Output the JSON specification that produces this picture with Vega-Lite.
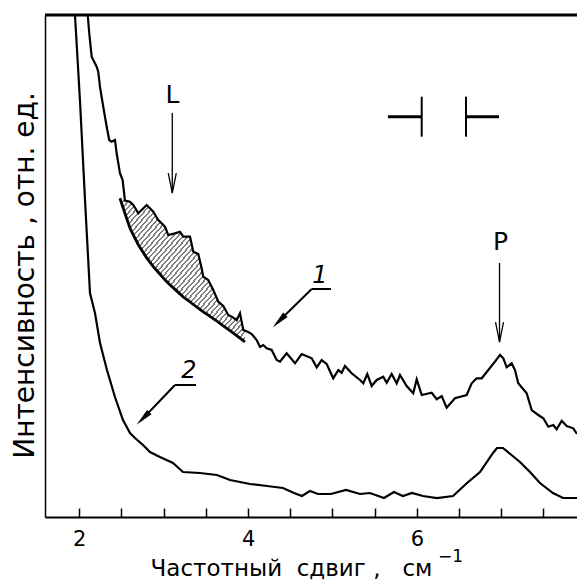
{
  "$schema": "https://vega.github.io/schema/vega-lite/v6.json",
  "width": 532,
  "height": 502,
  "autosize": {"type": "none"},
  "padding": {"left": 45, "top": 15, "right": 0, "bottom": 63},
  "background": "white",
  "config": {"view": {"stroke": null}, "font": "DejaVu Sans"},
  "datasets": {
    "c1": [
      {"x": 2.09, "y": 104}, {"x": 2.100, "y": 100.0}, {"x": 2.118, "y": 96.41}, {"x": 2.147, "y": 91.69},
      {"x": 2.166, "y": 91.04}, {"x": 2.206, "y": 89.70}, {"x": 2.225, "y": 88.71}, {"x": 2.245, "y": 85.72},
      {"x": 2.284, "y": 81.73}, {"x": 2.325, "y": 77.75}, {"x": 2.355, "y": 75.10}, {"x": 2.384, "y": 74.76},
      {"x": 2.423, "y": 75.10}, {"x": 2.443, "y": 72.45}, {"x": 2.482, "y": 68.47}, {"x": 2.514, "y": 67.13},
      {"x": 2.541, "y": 63.01}, {"x": 2.601, "y": 62.81}, {"x": 2.640, "y": 62.15}, {"x": 2.699, "y": 60.50},
      {"x": 2.799, "y": 62.15}, {"x": 2.877, "y": 60.82}, {"x": 2.936, "y": 59.16}, {"x": 2.976, "y": 58.51},
      {"x": 3.015, "y": 57.83}, {"x": 3.054, "y": 56.18}, {"x": 3.134, "y": 56.51}, {"x": 3.193, "y": 56.83},
      {"x": 3.232, "y": 55.84}, {"x": 3.312, "y": 55.84}, {"x": 3.351, "y": 52.85}, {"x": 3.410, "y": 52.39},
      {"x": 3.450, "y": 49.54}, {"x": 3.469, "y": 47.87}, {"x": 3.528, "y": 47.21}, {"x": 3.588, "y": 45.22},
      {"x": 3.647, "y": 42.89}, {"x": 3.706, "y": 42.03}, {"x": 3.765, "y": 40.24}, {"x": 3.806, "y": 39.90},
      {"x": 3.865, "y": 39.24}, {"x": 3.904, "y": 40.58}, {"x": 3.943, "y": 37.25}, {"x": 4.002, "y": 36.85},
      {"x": 4.043, "y": 36.45}, {"x": 4.102, "y": 35.26}, {"x": 4.141, "y": 33.86}, {"x": 4.180, "y": 34.26},
      {"x": 4.220, "y": 33.61}, {"x": 4.280, "y": 33.27}, {"x": 4.339, "y": 31.27}, {"x": 4.378, "y": 30.94},
      {"x": 4.457, "y": 32.61}, {"x": 4.556, "y": 30.62}, {"x": 4.635, "y": 32.47}, {"x": 4.754, "y": 31.61},
      {"x": 4.813, "y": 29.82}, {"x": 4.872, "y": 31.27}, {"x": 4.931, "y": 30.48}, {"x": 5.009, "y": 27.63},
      {"x": 5.069, "y": 29.28}, {"x": 5.109, "y": 28.75}, {"x": 5.148, "y": 30.08}, {"x": 5.227, "y": 28.63},
      {"x": 5.326, "y": 27.29}, {"x": 5.365, "y": 26.63}, {"x": 5.412, "y": 28.49}, {"x": 5.464, "y": 26.10},
      {"x": 5.524, "y": 27.29}, {"x": 5.602, "y": 27.95}, {"x": 5.642, "y": 26.75}, {"x": 5.701, "y": 28.49},
      {"x": 5.761, "y": 26.63}, {"x": 5.800, "y": 28.29}, {"x": 5.879, "y": 26.10}, {"x": 5.957, "y": 24.64},
      {"x": 5.998, "y": 27.43}, {"x": 6.057, "y": 24.30}, {"x": 6.175, "y": 24.76}, {"x": 6.235, "y": 23.45},
      {"x": 6.294, "y": 24.10}, {"x": 6.353, "y": 21.77}, {"x": 6.451, "y": 23.65}, {"x": 6.590, "y": 24.30},
      {"x": 6.649, "y": 26.63}, {"x": 6.708, "y": 27.63}, {"x": 6.768, "y": 27.63}, {"x": 6.846, "y": 29.28},
      {"x": 6.925, "y": 30.94}, {"x": 6.985, "y": 32.27}, {"x": 7.024, "y": 31.61}, {"x": 7.064, "y": 29.82},
      {"x": 7.123, "y": 30.62}, {"x": 7.162, "y": 29.28}, {"x": 7.201, "y": 26.63}, {"x": 7.301, "y": 24.64},
      {"x": 7.360, "y": 21.31}, {"x": 7.438, "y": 20.32}, {"x": 7.498, "y": 19.66}, {"x": 7.557, "y": 17.99},
      {"x": 7.616, "y": 18.33}, {"x": 7.656, "y": 17.47}, {"x": 7.716, "y": 19.18}, {"x": 7.775, "y": 18.13},
      {"x": 7.853, "y": 17.67}, {"x": 7.897, "y": 16.53}
    ],
    "c2": [
      {"x": 1.94, "y": 103}, {"x": 1.949, "y": 100.0}, {"x": 2.008, "y": 83.07}, {"x": 2.068, "y": 63.15},
      {"x": 2.127, "y": 44.62}, {"x": 2.186, "y": 40.64}, {"x": 2.246, "y": 34.66}, {"x": 2.328, "y": 29.28},
      {"x": 2.423, "y": 23.90}, {"x": 2.518, "y": 19.32}, {"x": 2.601, "y": 16.73}, {"x": 2.660, "y": 15.74},
      {"x": 2.755, "y": 14.34}, {"x": 2.838, "y": 12.95}, {"x": 2.956, "y": 11.95}, {"x": 3.110, "y": 10.76},
      {"x": 3.229, "y": 8.96}, {"x": 3.430, "y": 8.76}, {"x": 3.631, "y": 8.37}, {"x": 3.786, "y": 7.37},
      {"x": 4.023, "y": 6.57}, {"x": 4.224, "y": 6.18}, {"x": 4.413, "y": 5.78}, {"x": 4.544, "y": 4.78},
      {"x": 4.638, "y": 4.18}, {"x": 4.733, "y": 5.18}, {"x": 4.828, "y": 4.58}, {"x": 4.982, "y": 4.58},
      {"x": 5.160, "y": 5.38}, {"x": 5.326, "y": 4.58}, {"x": 5.444, "y": 4.78}, {"x": 5.610, "y": 3.78},
      {"x": 5.728, "y": 4.98}, {"x": 5.835, "y": 4.18}, {"x": 5.942, "y": 4.78}, {"x": 6.072, "y": 4.18},
      {"x": 6.238, "y": 3.78}, {"x": 6.428, "y": 4.18}, {"x": 6.594, "y": 6.77}, {"x": 6.748, "y": 8.96},
      {"x": 6.902, "y": 12.75}, {"x": 6.949, "y": 13.75}, {"x": 7.020, "y": 13.75}, {"x": 7.221, "y": 10.96},
      {"x": 7.340, "y": 8.96}, {"x": 7.458, "y": 6.77}, {"x": 7.612, "y": 4.78}, {"x": 7.731, "y": 3.78},
      {"x": 7.838, "y": 3.78}, {"x": 7.897, "y": 3.78}
    ],
    "hatch": [
      {"x": 2.482, "y": 63.49, "y2": 63.49}, {"x": 2.541, "y": 63.01, "y2": 60.50},
      {"x": 2.601, "y": 62.81, "y2": 57.51}, {"x": 2.640, "y": 62.15, "y2": 56.18},
      {"x": 2.699, "y": 60.50, "y2": 54.24}, {"x": 2.799, "y": 62.15, "y2": 51.61},
      {"x": 2.877, "y": 60.82, "y2": 49.86}, {"x": 2.936, "y": 59.16, "y2": 48.75},
      {"x": 2.976, "y": 58.51, "y2": 47.99}, {"x": 3.015, "y": 57.83, "y2": 47.25},
      {"x": 3.054, "y": 56.18, "y2": 46.57}, {"x": 3.134, "y": 56.51, "y2": 45.34},
      {"x": 3.193, "y": 56.83, "y2": 44.44}, {"x": 3.232, "y": 55.84, "y2": 43.82},
      {"x": 3.312, "y": 55.84, "y2": 42.83}, {"x": 3.351, "y": 52.85, "y2": 42.33},
      {"x": 3.410, "y": 52.39, "y2": 41.59}, {"x": 3.450, "y": 49.54, "y2": 41.10},
      {"x": 3.469, "y": 47.87, "y2": 40.88}, {"x": 3.528, "y": 47.21, "y2": 40.20},
      {"x": 3.588, "y": 45.22, "y2": 39.50}, {"x": 3.647, "y": 42.89, "y2": 38.80},
      {"x": 3.706, "y": 42.03, "y2": 38.09}, {"x": 3.765, "y": 40.24, "y2": 37.37},
      {"x": 3.806, "y": 39.90, "y2": 36.89}, {"x": 3.865, "y": 39.24, "y2": 36.14},
      {"x": 3.904, "y": 40.58, "y2": 35.62}, {"x": 3.943, "y": 37.25, "y2": 35.12},
      {"x": 3.963, "y": 37.10, "y2": 34.86}
    ],
    "segs": [
      {"kind": "shaft", "x": 3.102, "y": 80.48, "x2": 3.102, "y2": 64.54},
      {"kind": "shaft", "x": 6.979, "y": 50.60, "x2": 6.979, "y2": 34.86},
      {"kind": "leader", "x": 4.754, "y": 45.42, "x2": 4.982, "y2": 45.42},
      {"kind": "leader", "x": 4.754, "y": 45.42, "x2": 4.367, "y2": 39.04},
      {"kind": "leader", "x": 3.134, "y": 26.29, "x2": 3.383, "y2": 26.29},
      {"kind": "leader", "x": 3.134, "y": 26.29, "x2": 2.754, "y2": 19.62},
      {"kind": "barh", "x": 5.657, "y": 79.74, "x2": 6.057, "y2": 79.74},
      {"kind": "barh", "x": 6.582, "y": 79.74, "x2": 6.973, "y2": 79.74},
      {"kind": "barv", "x": 6.057, "y": 83.73, "x2": 6.057, "y2": 75.76},
      {"kind": "barv", "x": 6.582, "y": 83.73, "x2": 6.582, "y2": 75.76}
    ],
    "heads": [
      {"kind": "open", "x": 3.102, "y": 66.53},
      {"kind": "open", "x": 6.979, "y": 36.85},
      {"kind": "dart", "x": 4.367, "y": 39.04},
      {"kind": "dart", "x": 2.754, "y": 19.62}
    ],
    "labs": [
      {"kind": "up", "x": 3.104, "y": 82.47, "t": "L"},
      {"kind": "up", "x": 6.990, "y": 53.19, "t": "P"},
      {"kind": "it", "x": 4.852, "y": 46.61, "t": "1"},
      {"kind": "it", "x": 3.300, "y": 27.69, "t": "2"},
      {"kind": "sup", "x": 6.400, "y": -9.0, "t": "−1"}
    ],
    "frame": [{"y": 100}]
  },
  "layer": [
    {
      "data": {"name": "hatch"},
      "mark": {
        "type": "area",
        "fill": {
          "gradient": "linear", "x1": 0, "y1": 0, "x2": 1, "y2": 1,
          "stops": [
            {"offset": 0, "color": "#808080"}, {"offset": 0.008, "color": "#808080"}, {"offset": 0.008, "color": "#fff"}, {"offset": 0.02, "color": "#fff"},
            {"offset": 0.02, "color": "#808080"}, {"offset": 0.028, "color": "#808080"}, {"offset": 0.028, "color": "#fff"}, {"offset": 0.04, "color": "#fff"},
            {"offset": 0.04, "color": "#808080"}, {"offset": 0.048, "color": "#808080"}, {"offset": 0.048, "color": "#fff"}, {"offset": 0.06, "color": "#fff"},
            {"offset": 0.06, "color": "#808080"}, {"offset": 0.068, "color": "#808080"}, {"offset": 0.068, "color": "#fff"}, {"offset": 0.08, "color": "#fff"},
            {"offset": 0.08, "color": "#808080"}, {"offset": 0.088, "color": "#808080"}, {"offset": 0.088, "color": "#fff"}, {"offset": 0.1, "color": "#fff"},
            {"offset": 0.1, "color": "#808080"}, {"offset": 0.108, "color": "#808080"}, {"offset": 0.108, "color": "#fff"}, {"offset": 0.12, "color": "#fff"},
            {"offset": 0.12, "color": "#808080"}, {"offset": 0.128, "color": "#808080"}, {"offset": 0.128, "color": "#fff"}, {"offset": 0.14, "color": "#fff"},
            {"offset": 0.14, "color": "#808080"}, {"offset": 0.148, "color": "#808080"}, {"offset": 0.148, "color": "#fff"}, {"offset": 0.16, "color": "#fff"},
            {"offset": 0.16, "color": "#808080"}, {"offset": 0.168, "color": "#808080"}, {"offset": 0.168, "color": "#fff"}, {"offset": 0.18, "color": "#fff"},
            {"offset": 0.18, "color": "#808080"}, {"offset": 0.188, "color": "#808080"}, {"offset": 0.188, "color": "#fff"}, {"offset": 0.2, "color": "#fff"},
            {"offset": 0.2, "color": "#808080"}, {"offset": 0.208, "color": "#808080"}, {"offset": 0.208, "color": "#fff"}, {"offset": 0.22, "color": "#fff"},
            {"offset": 0.22, "color": "#808080"}, {"offset": 0.228, "color": "#808080"}, {"offset": 0.228, "color": "#fff"}, {"offset": 0.24, "color": "#fff"},
            {"offset": 0.24, "color": "#808080"}, {"offset": 0.248, "color": "#808080"}, {"offset": 0.248, "color": "#fff"}, {"offset": 0.26, "color": "#fff"},
            {"offset": 0.26, "color": "#808080"}, {"offset": 0.268, "color": "#808080"}, {"offset": 0.268, "color": "#fff"}, {"offset": 0.28, "color": "#fff"},
            {"offset": 0.28, "color": "#808080"}, {"offset": 0.288, "color": "#808080"}, {"offset": 0.288, "color": "#fff"}, {"offset": 0.3, "color": "#fff"},
            {"offset": 0.3, "color": "#808080"}, {"offset": 0.308, "color": "#808080"}, {"offset": 0.308, "color": "#fff"}, {"offset": 0.32, "color": "#fff"},
            {"offset": 0.32, "color": "#808080"}, {"offset": 0.328, "color": "#808080"}, {"offset": 0.328, "color": "#fff"}, {"offset": 0.34, "color": "#fff"},
            {"offset": 0.34, "color": "#808080"}, {"offset": 0.348, "color": "#808080"}, {"offset": 0.348, "color": "#fff"}, {"offset": 0.36, "color": "#fff"},
            {"offset": 0.36, "color": "#808080"}, {"offset": 0.368, "color": "#808080"}, {"offset": 0.368, "color": "#fff"}, {"offset": 0.38, "color": "#fff"},
            {"offset": 0.38, "color": "#808080"}, {"offset": 0.388, "color": "#808080"}, {"offset": 0.388, "color": "#fff"}, {"offset": 0.4, "color": "#fff"},
            {"offset": 0.4, "color": "#808080"}, {"offset": 0.408, "color": "#808080"}, {"offset": 0.408, "color": "#fff"}, {"offset": 0.42, "color": "#fff"},
            {"offset": 0.42, "color": "#808080"}, {"offset": 0.428, "color": "#808080"}, {"offset": 0.428, "color": "#fff"}, {"offset": 0.44, "color": "#fff"},
            {"offset": 0.44, "color": "#808080"}, {"offset": 0.448, "color": "#808080"}, {"offset": 0.448, "color": "#fff"}, {"offset": 0.46, "color": "#fff"},
            {"offset": 0.46, "color": "#808080"}, {"offset": 0.468, "color": "#808080"}, {"offset": 0.468, "color": "#fff"}, {"offset": 0.48, "color": "#fff"},
            {"offset": 0.48, "color": "#808080"}, {"offset": 0.488, "color": "#808080"}, {"offset": 0.488, "color": "#fff"}, {"offset": 0.5, "color": "#fff"},
            {"offset": 0.5, "color": "#808080"}, {"offset": 0.508, "color": "#808080"}, {"offset": 0.508, "color": "#fff"}, {"offset": 0.52, "color": "#fff"},
            {"offset": 0.52, "color": "#808080"}, {"offset": 0.528, "color": "#808080"}, {"offset": 0.528, "color": "#fff"}, {"offset": 0.54, "color": "#fff"},
            {"offset": 0.54, "color": "#808080"}, {"offset": 0.548, "color": "#808080"}, {"offset": 0.548, "color": "#fff"}, {"offset": 0.56, "color": "#fff"},
            {"offset": 0.56, "color": "#808080"}, {"offset": 0.568, "color": "#808080"}, {"offset": 0.568, "color": "#fff"}, {"offset": 0.58, "color": "#fff"},
            {"offset": 0.58, "color": "#808080"}, {"offset": 0.588, "color": "#808080"}, {"offset": 0.588, "color": "#fff"}, {"offset": 0.6, "color": "#fff"},
            {"offset": 0.6, "color": "#808080"}, {"offset": 0.608, "color": "#808080"}, {"offset": 0.608, "color": "#fff"}, {"offset": 0.62, "color": "#fff"},
            {"offset": 0.62, "color": "#808080"}, {"offset": 0.628, "color": "#808080"}, {"offset": 0.628, "color": "#fff"}, {"offset": 0.64, "color": "#fff"},
            {"offset": 0.64, "color": "#808080"}, {"offset": 0.648, "color": "#808080"}, {"offset": 0.648, "color": "#fff"}, {"offset": 0.66, "color": "#fff"},
            {"offset": 0.66, "color": "#808080"}, {"offset": 0.668, "color": "#808080"}, {"offset": 0.668, "color": "#fff"}, {"offset": 0.68, "color": "#fff"},
            {"offset": 0.68, "color": "#808080"}, {"offset": 0.688, "color": "#808080"}, {"offset": 0.688, "color": "#fff"}, {"offset": 0.7, "color": "#fff"},
            {"offset": 0.7, "color": "#808080"}, {"offset": 0.708, "color": "#808080"}, {"offset": 0.708, "color": "#fff"}, {"offset": 0.72, "color": "#fff"},
            {"offset": 0.72, "color": "#808080"}, {"offset": 0.728, "color": "#808080"}, {"offset": 0.728, "color": "#fff"}, {"offset": 0.74, "color": "#fff"},
            {"offset": 0.74, "color": "#808080"}, {"offset": 0.748, "color": "#808080"}, {"offset": 0.748, "color": "#fff"}, {"offset": 0.76, "color": "#fff"},
            {"offset": 0.76, "color": "#808080"}, {"offset": 0.768, "color": "#808080"}, {"offset": 0.768, "color": "#fff"}, {"offset": 0.78, "color": "#fff"},
            {"offset": 0.78, "color": "#808080"}, {"offset": 0.788, "color": "#808080"}, {"offset": 0.788, "color": "#fff"}, {"offset": 0.8, "color": "#fff"},
            {"offset": 0.8, "color": "#808080"}, {"offset": 0.808, "color": "#808080"}, {"offset": 0.808, "color": "#fff"}, {"offset": 0.82, "color": "#fff"},
            {"offset": 0.82, "color": "#808080"}, {"offset": 0.828, "color": "#808080"}, {"offset": 0.828, "color": "#fff"}, {"offset": 0.84, "color": "#fff"},
            {"offset": 0.84, "color": "#808080"}, {"offset": 0.848, "color": "#808080"}, {"offset": 0.848, "color": "#fff"}, {"offset": 0.86, "color": "#fff"},
            {"offset": 0.86, "color": "#808080"}, {"offset": 0.868, "color": "#808080"}, {"offset": 0.868, "color": "#fff"}, {"offset": 0.88, "color": "#fff"},
            {"offset": 0.88, "color": "#808080"}, {"offset": 0.888, "color": "#808080"}, {"offset": 0.888, "color": "#fff"}, {"offset": 0.9, "color": "#fff"},
            {"offset": 0.9, "color": "#808080"}, {"offset": 0.908, "color": "#808080"}, {"offset": 0.908, "color": "#fff"}, {"offset": 0.92, "color": "#fff"},
            {"offset": 0.92, "color": "#808080"}, {"offset": 0.928, "color": "#808080"}, {"offset": 0.928, "color": "#fff"}, {"offset": 0.94, "color": "#fff"},
            {"offset": 0.94, "color": "#808080"}, {"offset": 0.948, "color": "#808080"}, {"offset": 0.948, "color": "#fff"}, {"offset": 0.96, "color": "#fff"},
            {"offset": 0.96, "color": "#808080"}, {"offset": 0.968, "color": "#808080"}, {"offset": 0.968, "color": "#fff"}, {"offset": 0.98, "color": "#fff"},
            {"offset": 0.98, "color": "#808080"}, {"offset": 0.988, "color": "#808080"}, {"offset": 0.988, "color": "#fff"}, {"offset": 1, "color": "#fff"}
          ]
        }
      },
      "encoding": {
        "x": {
          "field": "x", "type": "quantitative",
          "scale": {"domain": [1.594, 7.897], "nice": false, "zero": false},
          "axis": {
            "values": [2, 2.5, 3, 3.5, 4, 4.5, 5, 5.5, 6, 6.5, 7, 7.5],
            "labelExpr": "datum.value % 2 === 0 ? format(datum.value, 'd') : ''",
            "grid": false,
            "tickSize": -9, "tickWidth": 1.5, "tickColor": "black",
            "domainColor": "black", "domainWidth": 2,
            "labelFont": "DejaVu Sans", "labelFontSize": 21, "labelColor": "black",
            "labelBaseline": "alphabetic", "labelPadding": 37, "labelFlush": false,
            "title": "Частотный\u00a0\u00a0сдвиг\u00a0,\u00a0\u00a0\u00a0см",
            "titleFont": "DejaVu Sans", "titleFontSize": 23, "titleFontWeight": "normal", "titleColor": "black",
            "titleX": 246, "titleY": 58, "titleBaseline": "alphabetic", "titleAlign": "center"
          }
        },
        "y": {
          "field": "y", "type": "quantitative",
          "scale": {"domain": [0, 100], "nice": false, "zero": false},
          "axis": {
            "ticks": false, "labels": false, "grid": false,
            "domainColor": "black", "domainWidth": 1.5,
            "title": "Интенсивность , отн. ед.",
            "titleFont": "DejaVu Sans", "titleFontSize": 28, "titleFontWeight": "normal", "titleColor": "black",
            "titleAngle": -90, "titleX": -12, "titleY": 260, "titleBaseline": "alphabetic", "titleAlign": "center"
          }
        },
        "y2": {"field": "y2"}
      }
    },
    {
      "data": {"name": "hatch"},
      "mark": {"type": "line", "color": "black", "strokeWidth": 2.8, "clip": true},
      "encoding": {
        "x": {"field": "x", "type": "quantitative"},
        "y": {"field": "y2", "type": "quantitative"}
      }
    },
    {
      "data": {"name": "c1"},
      "mark": {"type": "line", "color": "black", "strokeWidth": 2.2, "clip": true},
      "encoding": {
        "x": {"field": "x", "type": "quantitative"},
        "y": {"field": "y", "type": "quantitative"}
      }
    },
    {
      "data": {"name": "c2"},
      "mark": {"type": "line", "color": "black", "strokeWidth": 2.2, "clip": true},
      "encoding": {
        "x": {"field": "x", "type": "quantitative"},
        "y": {"field": "y", "type": "quantitative"}
      }
    },
    {
      "data": {"name": "frame"},
      "mark": {"type": "rule", "color": "black", "strokeWidth": 3},
      "encoding": {"y": {"field": "y", "type": "quantitative"}}
    },
    {
      "data": {"name": "segs"},
      "transform": [{"filter": "datum.kind === 'shaft'"}],
      "mark": {"type": "rule", "color": "black", "strokeWidth": 1.3},
      "encoding": {
        "x": {"field": "x", "type": "quantitative"}, "y": {"field": "y", "type": "quantitative"},
        "x2": {"field": "x2"}, "y2": {"field": "y2"}
      }
    },
    {
      "data": {"name": "segs"},
      "transform": [{"filter": "datum.kind === 'leader' || datum.kind === 'barv'"}],
      "mark": {"type": "rule", "color": "black", "strokeWidth": 2},
      "encoding": {
        "x": {"field": "x", "type": "quantitative"}, "y": {"field": "y", "type": "quantitative"},
        "x2": {"field": "x2"}, "y2": {"field": "y2"}
      }
    },
    {
      "data": {"name": "segs"},
      "transform": [{"filter": "datum.kind === 'barh'"}],
      "mark": {"type": "rule", "color": "black", "strokeWidth": 3},
      "encoding": {
        "x": {"field": "x", "type": "quantitative"}, "y": {"field": "y", "type": "quantitative"},
        "x2": {"field": "x2"}, "y2": {"field": "y2"}
      }
    },
    {
      "data": {"name": "heads"},
      "transform": [{"filter": "datum.kind === 'open'"}],
      "mark": {"type": "point", "shape": "M-0.4,-1L0,1L0.4,-1", "size": 400, "filled": false, "stroke": "black", "strokeWidth": 1.3, "opacity": 1},
      "encoding": {"x": {"field": "x", "type": "quantitative"}, "y": {"field": "y", "type": "quantitative"}}
    },
    {
      "data": {"name": "heads"},
      "transform": [{"filter": "datum.kind === 'dart'"}],
      "mark": {"type": "point", "shape": "M0,1L-0.35,-1L0.35,-1Z", "size": 324, "filled": true, "fill": "black", "strokeWidth": 0, "angle": 45, "opacity": 1},
      "encoding": {"x": {"field": "x", "type": "quantitative"}, "y": {"field": "y", "type": "quantitative"}}
    },
    {
      "data": {"name": "labs"},
      "transform": [{"filter": "datum.kind === 'up'"}],
      "mark": {"type": "text", "font": "DejaVu Sans", "fontSize": 25, "color": "black", "align": "center", "baseline": "alphabetic"},
      "encoding": {"x": {"field": "x", "type": "quantitative"}, "y": {"field": "y", "type": "quantitative"}, "text": {"field": "t"}}
    },
    {
      "data": {"name": "labs"},
      "transform": [{"filter": "datum.kind === 'it'"}],
      "mark": {"type": "text", "font": "DejaVu Sans", "fontSize": 24, "fontStyle": "italic", "color": "black", "align": "center", "baseline": "alphabetic"},
      "encoding": {"x": {"field": "x", "type": "quantitative"}, "y": {"field": "y", "type": "quantitative"}, "text": {"field": "t"}}
    },
    {
      "data": {"name": "labs"},
      "transform": [{"filter": "datum.kind === 'sup'"}],
      "mark": {"type": "text", "font": "DejaVu Sans", "fontSize": 17, "color": "black", "align": "center", "baseline": "alphabetic"},
      "encoding": {"x": {"field": "x", "type": "quantitative"}, "y": {"field": "y", "type": "quantitative"}, "text": {"field": "t"}}
    }
  ]
}
